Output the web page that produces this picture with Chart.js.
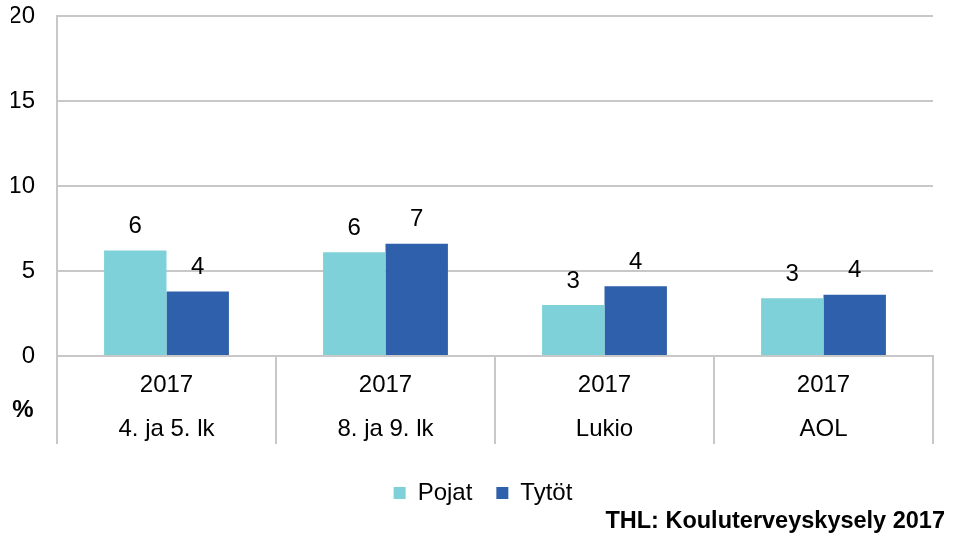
<!DOCTYPE html>
<html>
<head>
<meta charset="utf-8">
<script src="https://cdn.jsdelivr.net/npm/chart.js@4/dist/chart.umd.min.js"></script>
<style>
  html, body { margin: 0; padding: 0; background: #fff; }
  #wrap { width: 955px; height: 533px; position: relative; }
</style>
</head>
<body>
<div id="wrap"><canvas id="chart" width="955" height="533"></canvas></div>
<script>
// Data
const years = ['2017', '2017', '2017', '2017'];
const groups = ['4. ja 5. lk', '8. ja 9. lk', 'Lukio', 'AOL'];
const pojat = [6.2, 6.1, 3.0, 3.4];
const tytot = [3.8, 6.6, 4.1, 3.6];
const yTicks = [0, 5, 10, 15, 20];

const FONT = "'Liberation Sans', Arial, sans-serif";
const GRID = '#c8c8c8';

// Value labels above bars
const valueLabels = {
    id: 'valueLabels',
    afterDatasetsDraw(chart) {
        const ctx = chart.ctx;
        ctx.save();
        ctx.font = '24px ' + FONT;
        ctx.fillStyle = '#000';
        ctx.textAlign = 'center';
        ctx.textBaseline = 'middle';
        chart.data.datasets.forEach((ds, i) => {
            chart.getDatasetMeta(i).data.forEach((bar, j) => {
                ctx.fillText(Math.round(ds.data[j]), bar.x, bar.y - 24);
            });
        });
        ctx.restore();
    }
};

// "%" marker and source text
const extraText = {
    id: 'extraText',
    afterDraw(chart) {
        const ctx = chart.ctx;
        ctx.save();
        ctx.fillStyle = '#000';
        ctx.textBaseline = 'middle';
        ctx.font = 'bold 24px ' + FONT;
        ctx.textAlign = 'center';
        ctx.fillText('%', 23, 410);
        ctx.font = 'bold 23.5px ' + FONT;
        ctx.textAlign = 'right';
        ctx.fillText('THL: Kouluterveyskysely 2017', 945, 522);
        ctx.restore();
    }
};

const labels = groups.map((g, i) => [years[i], g]);

new Chart(document.getElementById('chart'), {
    type: 'bar',
    data: {
        labels: labels,
        datasets: [
            { label: 'Pojat', data: pojat, backgroundColor: '#7ed1d8', barPercentage: 1, categoryPercentage: 0.57 },
            { label: 'Tytöt', data: tytot, backgroundColor: '#2f60ab', barPercentage: 1, categoryPercentage: 0.57 }
        ]
    },
    options: {
        responsive: false,
        animation: false,
        layout: { padding: { top: 16, right: 0, bottom: 18, left: 11 } },
        plugins: {
            legend: {
                position: 'bottom',
                labels: {
                    boxWidth: 12,
                    boxHeight: 12,
                    padding: 24,
                    color: '#000',
                    font: { family: FONT, size: 24 }
                }
            },
            tooltip: { enabled: false }
        },
        scales: {
            x: {
                grid: {
                    offset: true,
                    drawOnChartArea: true,
                    drawTicks: true,
                    tickLength: 88,
                    lineWidth: 2,
                    color: c => (c.index === 0 || c.index === groups.length) ? GRID : 'transparent',
                    tickColor: GRID
                },
                border: { display: true, color: GRID, width: 2 },
                ticks: {
                    padding: -81,
                    color: '#000',
                    maxRotation: 0,
                    font: { family: FONT, size: 24, lineHeight: 1.83 }
                },
                afterFit(scale) {
                    scale.height = 101;
                    scale.paddingLeft = 0;
                    scale.paddingRight = 22;
                }
            },
            y: {
                min: 0,
                max: 20,
                afterBuildTicks(scale) { scale.ticks = yTicks.map(v => ({ value: v })); },
                grid: { color: GRID, lineWidth: 2, drawTicks: false },
                border: { display: true, color: GRID, width: 2 },
                ticks: {
                    padding: 22,
                    color: '#000',
                    font: { family: FONT, size: 24 }
                },
                afterFit(scale) {
                    scale.width = 46;
                    scale.paddingTop = 0;
                    scale.paddingBottom = 0;
                }
            }
        }
    },
    plugins: [valueLabels, extraText]
});
</script>
</body>
</html>
